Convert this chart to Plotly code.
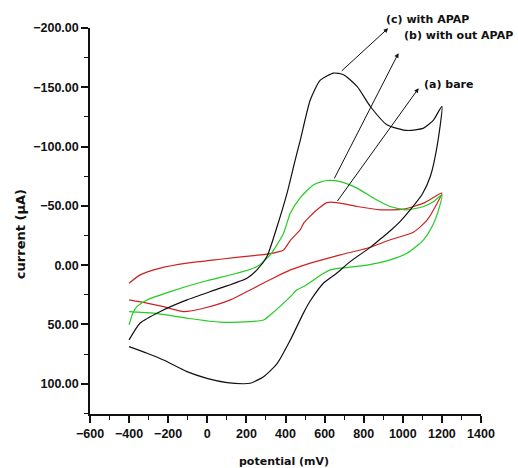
import plotly.graph_objects as go

# (c) with APAP - black loop (forward then reverse scan)
c_x = [-400, -343, -240, -104, 66, 203, 254, 305, 357, 408, 450, 476, 527, 578, 646, 697, 766, 834, 919, 1021, 1106, 1158, 1200,
       1175, 1141, 1100, 1040, 987, 936, 885, 834, 731, 660, 595, 527, 493, 425, 357, 288, 220, 180, 101, -2, -104, -224, -308, -400]
c_y = [63, 48.8, 39, 29.3, 19.4, 11, 4, -7.3, -32.6, -60.8, -89, -105.7, -139.5, -156, -162, -160.6, -150.7, -133.8, -118.4, -113.6, -115.6, -122.6, -134,
       -100, -75, -60, -47, -37, -29, -22, -15, -3, 7, 15, 30, 40, 63, 83, 94, 99.6, 100, 99, 95.4, 89.8, 80, 74.3, 68.7]

# (b) with out APAP - green loop
b_x = [-400, -380, -360, -308, -189, -19, 152, 254, 322, 390, 425, 476, 544, 612, 680, 766, 851, 936, 1021, 1106, 1160, 1200,
       1180, 1158, 1106, 1021, 936, 817, 680, 629, 595, 493, 459, 425, 322, 288, 220, 66, -104, -275, -400]
b_y = [50.4, 40, 35, 29.3, 22.3, 13.8, 6.8, 1.2, -8.7, -27, -44, -57, -67.8, -71.4, -70.5, -65, -56.5, -49.5, -46.7, -49.5, -54, -59.3,
       -45, -35.4, -21.4, -10, -4.5, 0, 2.5, 4, 6.8, 18, 20.8, 26.5, 42, 46.2, 47.6, 48.1, 44.7, 40.5, 39.1]

# (a) bare - red loop
a_x = [-400, -343, -240, -104, 66, 237, 305, 390, 425, 476, 493, 561, 612, 663, 766, 885, 1004, 1106, 1200,
       1175, 1124, 1056, 936, 817, 680, 527, 476, 425, 373, 300, 237, 118, -19, -121, -224, -308, -400]
a_y = [15.2, 8.2, 2.5, -1.7, -5, -8.1, -9.3, -12.9, -21, -30, -35.4, -46.7, -52.8, -52.8, -49.5, -46.7, -47.3, -52.3, -60.8,
       -52, -38, -28, -21.4, -14.3, -8.7, -1.7, 1, 4, 8, 14, 19.4, 29.3, 36.3, 39.1, 35, 32, 29.3]

labels = ["(c) with APAP", "(b) with out APAP", "(a) bare"]
label_pos = [(910, -200), (1003, -194.1), (1103, -152)]
label_shift = [8.5, 0, 0]
arrow_head = [(925, -199.8), (978, -178.8), (1081, -149.2)]
arrow_tail = [(680, -162.7), (646, -71.9), (660, -52.8)]

FONT = "Liberation Sans, Arial, sans-serif"
WIDE = "DejaVu Sans, Liberation Sans, sans-serif"

fig = go.Figure()
for xs, ys, col, name in [(a_x, a_y, "#cc2222", labels[2]),
                          (b_x, b_y, "#22cc22", labels[1]),
                          (c_x, c_y, "#111111", labels[0])]:
    fig.add_trace(go.Scatter(x=xs, y=ys, mode="lines", name=name,
                             line=dict(color=col, width=1.2, shape="spline", smoothing=0.6)))

annotations = []
for (hx, hy), (tx, ty) in zip(arrow_head, arrow_tail):
    annotations.append(dict(x=hx, y=hy, ax=tx, ay=ty, xref="x", yref="y", axref="x", ayref="y",
                            text="", showarrow=True, arrowhead=2, arrowsize=0.9, arrowwidth=1,
                            arrowcolor="#111111", standoff=0, startstandoff=0))
for txt, (lx, ly), sh in zip(labels, label_pos, label_shift):
    annotations.append(dict(x=lx, y=ly, xref="x", yref="y", text=txt, showarrow=False,
                            xanchor="left", yanchor="middle", yshift=sh, borderpad=0,
                            font=dict(family=WIDE, size=11, color="#111111", weight="bold")))
annotations.append(dict(x=0.496, y=-0.124, xref="paper", yref="paper", text="potential (mV)",
                        showarrow=False, xanchor="center", yanchor="middle",
                        font=dict(family=WIDE, size=11, color="#111111", weight="bold")))
annotations.append(dict(x=-0.179, y=0.466, xref="paper", yref="paper", text="current (µA)",
                        showarrow=False, xanchor="center", yanchor="middle", textangle=-90,
                        font=dict(family=WIDE, size=13, color="#111111", weight="bold")))

fig.update_layout(
    width=518, height=468,
    margin=dict(l=90, r=37, t=28, b=54),
    paper_bgcolor="white", plot_bgcolor="white",
    showlegend=False,
    annotations=annotations,
    xaxis=dict(range=[-600, 1400], tickmode="linear", tick0=-600, dtick=200,
               showgrid=False, zeroline=False, showline=True, linecolor="#111111", linewidth=1.5,
               ticks="outside", ticklen=7, tickwidth=1.5, tickcolor="#111111",
               minor=dict(dtick=100, ticks="outside", ticklen=4, tickwidth=1, tickcolor="#111111"),
               tickfont=dict(family=FONT, size=12.5, color="#111111", weight="bold")),
    yaxis=dict(range=[125.5, -200], tickmode="linear", tick0=-200, dtick=50, tickformat=".2f",
               showgrid=False, zeroline=False, showline=True, linecolor="#111111", linewidth=1.5,
               ticks="outside", ticklen=7, tickwidth=1.5, tickcolor="#111111",
               minor=dict(dtick=25, ticks="outside", ticklen=4, tickwidth=1, tickcolor="#111111"),
               tickfont=dict(family=FONT, size=12.5, color="#111111", weight="bold")),
)

fig.write_html("out.html", config={"displayModeBar": False},
               post_script="document.body.style.margin='0';")
